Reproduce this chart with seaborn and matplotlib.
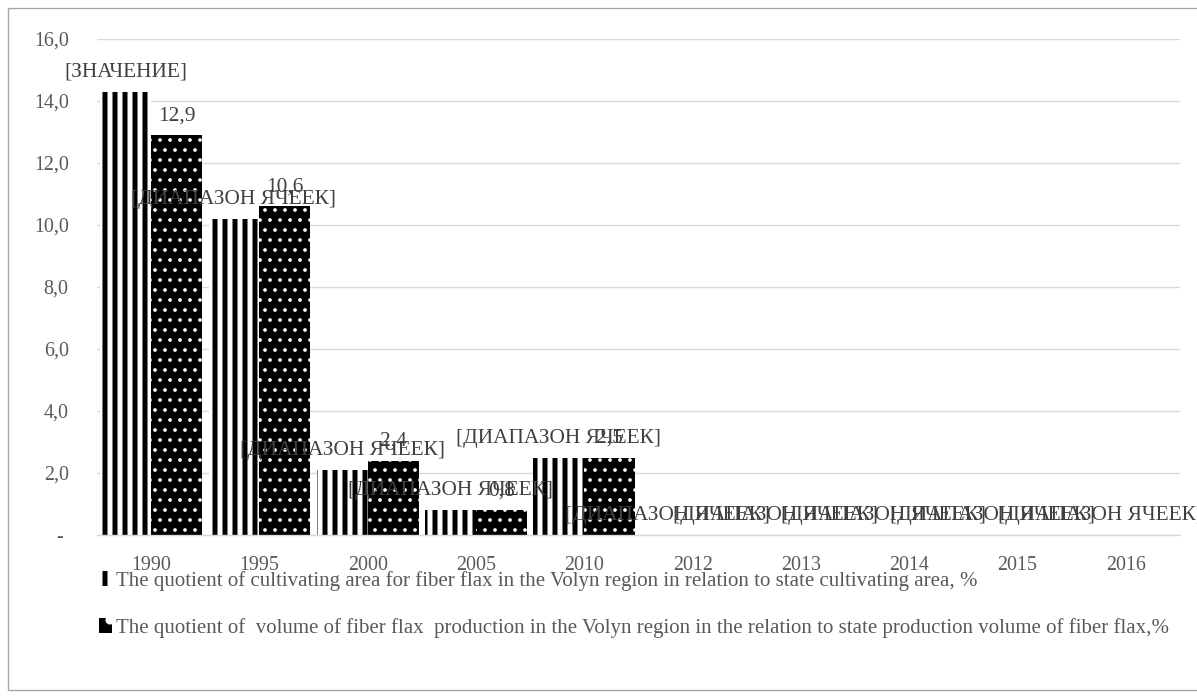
import matplotlib
matplotlib.use("Agg")
import matplotlib.pyplot as plt
from matplotlib.patches import Rectangle, Patch
import pandas as pd
import seaborn as sns

# ---- data -------------------------------------------------------------
years = ["1990", "1995", "2000", "2005", "2010", "2012", "2013", "2014", "2015", "2016"]
area_share = [14.3, 10.2, 2.1, 0.8, 2.5, 0, 0, 0, 0, 0]
production_share = [12.9, 10.6, 2.4, 0.8, 2.5, 0, 0, 0, 0, 0]

area_labels = ["[ЗНАЧЕНИЕ]"] + ["[ДИАПАЗОН ЯЧЕЕК]"] * 9
production_labels = ["12,9", "10,6", "2,4", "0,8", "2,5", "", "", "", "", ""]

series_names = [
    "The quotient of cultivating area for fiber flax in the Volyn region in relation to state cultivating area, %",
    "The quotient of  volume of fiber flax  production in the Volyn region in the relation to state production volume of fiber flax,%",
]
y_ticks = [0, 2, 4, 6, 8, 10, 12, 14, 16]

# ---- style ------------------------------------------------------------
sns.set_theme(style="white")
plt.rcParams["font.family"] = ["Liberation Serif", "DejaVu Serif"]
plt.rcParams["hatch.linewidth"] = 3.0

DPI = 120
W, H = 1197, 697
fig = plt.figure(figsize=(W / DPI, H / DPI), dpi=DPI)
ax = fig.add_axes([97 / W, 1 - 535 / H, (1180 - 97) / W, (535 - 39) / H])

df = pd.DataFrame({
    "year": years * 2,
    "value": area_share + production_share,
    "series": [series_names[0]] * len(years) + [series_names[1]] * len(years),
})

sns.barplot(data=df, x="year", y="value", hue="series", order=years,
            hue_order=series_names, palette=["white", "black"], saturation=1,
            width=0.94, gap=0, legend=False, ax=ax)

striped, dotted = ax.containers[0], ax.containers[1]


def style_bars(bars, face, hatch_color, hatch, hatch_lw):
    for bar in bars:
        bar.set_facecolor(face)
        bar.set_edgecolor(hatch_color)
        bar.set_linewidth(0)
        bar.set_hatch(hatch)
        if hasattr(bar, "set_hatch_linewidth"):
            bar.set_hatch_linewidth(hatch_lw)


style_bars(striped, "white", "black", "||", 3.0)
style_bars(dotted, "black", "white", "..", 1.0)

label_kw = dict(padding=6.0, fontsize=12.8, color="#404040")
ax.bar_label(striped, labels=area_labels, **label_kw)
ax.bar_label(dotted, labels=production_labels, **label_kw)

# ---- axes -------------------------------------------------------------
ax.set_ylim(0, 16)
ax.set_yticks(y_ticks)
ax.set_yticklabels(["- " if v == 0 else f"{v:.1f}".replace(".", ",") for v in y_ticks])
ax.set_xlabel("")
ax.set_ylabel("")
ax.yaxis.grid(True, color="#d9d9d9", linewidth=0.8)
ax.set_axisbelow(True)
for side in ("left", "right", "top"):
    ax.spines[side].set_visible(False)
ax.spines["bottom"].set_color("#d9d9d9")
ax.spines["bottom"].set_linewidth(0.8)
ax.tick_params(axis="x", length=0, pad=12.5, labelsize=12, labelcolor="#595959")
ax.tick_params(axis="y", length=0, pad=17, labelsize=12, labelcolor="#595959")

# ---- legend -----------------------------------------------------------
handles = [
    Patch(facecolor="white", edgecolor="black", hatch="||", linewidth=0),
    Patch(facecolor="black", edgecolor="white", hatch=".", linewidth=0),
]
if hasattr(handles[1], "set_hatch_linewidth"):
    handles[0].set_hatch_linewidth(2.2)
    handles[1].set_hatch_linewidth(1.0)
leg = fig.legend(handles, series_names, loc="upper left",
                 bbox_to_anchor=(99 / W, 1 - 571 / H), frameon=False,
                 fontsize=12.5, labelcolor="#595959", handlelength=0.6,
                 handleheight=0.7, handletextpad=0.2, labelspacing=1.3,
                 borderpad=0, borderaxespad=0)

# chart frame
fig.patches.append(Rectangle((8 / W, 1 - 690 / H), 1.2, (690 - 8) / H,
                             transform=fig.transFigure, fill=False,
                             edgecolor="#a6a6a6", linewidth=0.8))

fig.savefig("out.png", dpi=DPI)
